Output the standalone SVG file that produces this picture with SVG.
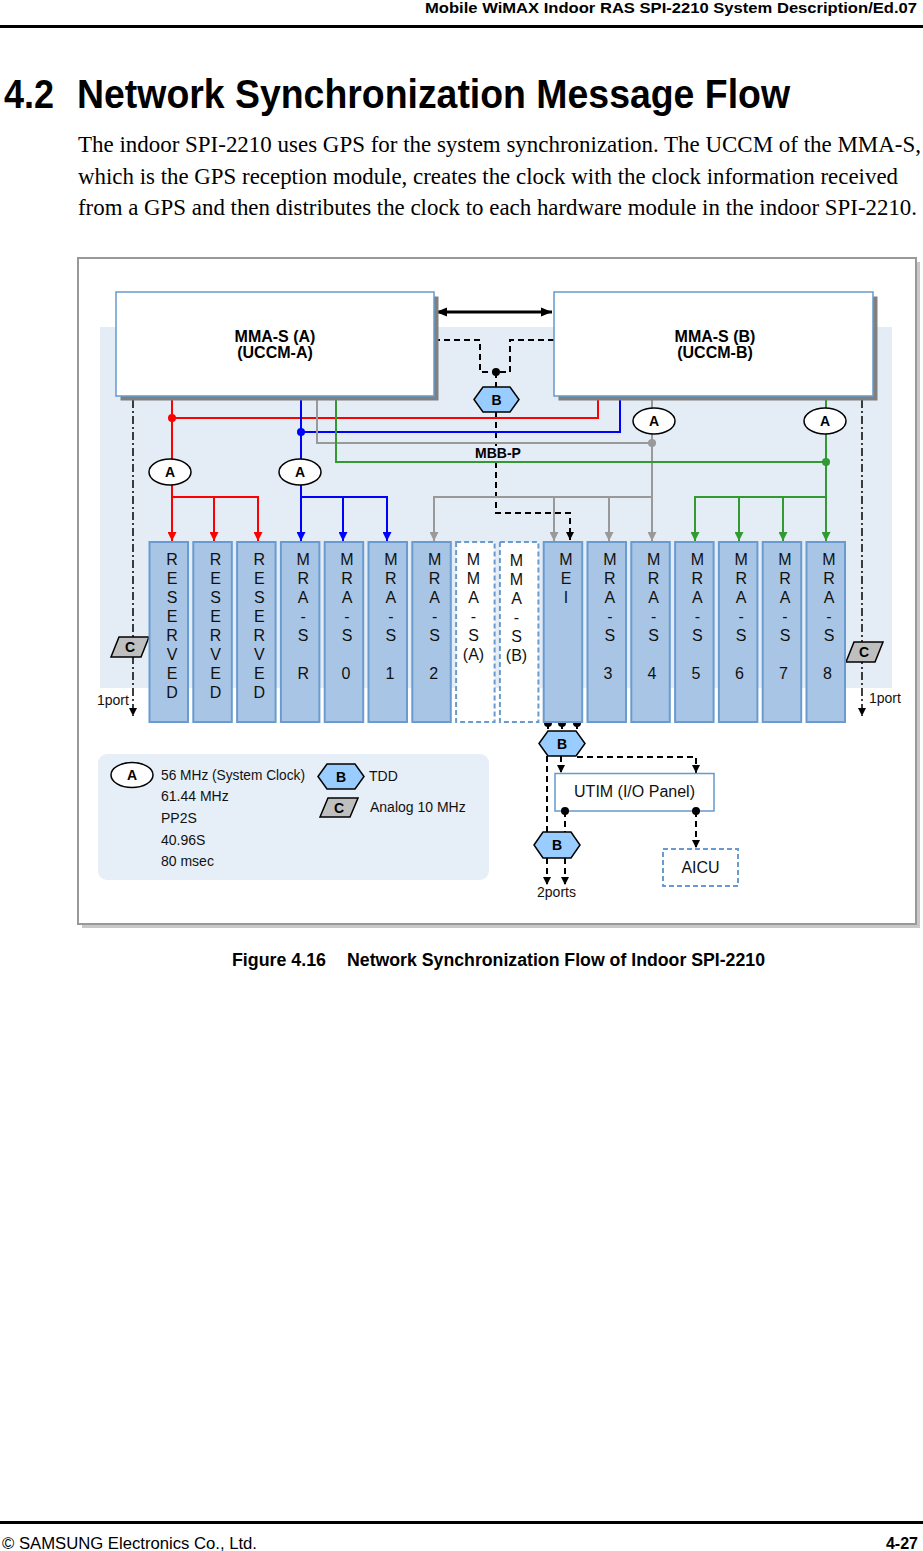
<svg xmlns="http://www.w3.org/2000/svg" width="923" height="1551" viewBox="0 0 923 1551">
<style>
.sans{font-family:"Liberation Sans",Arial,sans-serif}
.serif{font-family:"Liberation Serif","Times New Roman",serif}
.b{font-weight:bold}
.card{fill:#a8c5e5;stroke:#6a9bd0;stroke-width:2}
.dcard{fill:#fff;stroke:#6a9bd0;stroke-width:2;stroke-dasharray:5,3}
.ct{font-family:"Liberation Sans",Arial,sans-serif;font-size:16px;fill:#111;text-anchor:middle}
.box{fill:#fff;stroke:#6699cc;stroke-width:1.5}
.shadow{fill:#808080}
.hex{fill:#99ccff;stroke:#000;stroke-width:1.5}
.para{fill:#bfbfbf;stroke:#000;stroke-width:1.5}
.ell{fill:#fff;stroke:#000;stroke-width:1.5}
.lbl{font-family:"Liberation Sans",Arial,sans-serif;font-weight:bold;font-size:14px;text-anchor:middle}
.big{font-family:"Liberation Sans",Arial,sans-serif;font-weight:bold;font-size:16px;text-anchor:middle}
.txt{font-family:"Liberation Sans",Arial,sans-serif;font-size:14px;fill:#111}
.dash{fill:none;stroke:#000;stroke-width:2;stroke-dasharray:6,4}
.dd{fill:none;stroke:#000;stroke-width:1.5;stroke-dasharray:8,3,2,3}
.rl{fill:none;stroke:#ff0000;stroke-width:2}
.bl{fill:none;stroke:#0000ff;stroke-width:2}
.gl{fill:none;stroke:#999999;stroke-width:2}
.grl{fill:none;stroke:#339933;stroke-width:2}
</style>
<defs>
<marker id="mr" viewBox="0 0 10 10" refX="10" refY="5" markerWidth="9" markerHeight="9" markerUnits="userSpaceOnUse" orient="auto"><path d="M0,0L10,5L0,10z" fill="#ff0000"/></marker>
<marker id="mb" viewBox="0 0 10 10" refX="10" refY="5" markerWidth="9" markerHeight="9" markerUnits="userSpaceOnUse" orient="auto"><path d="M0,0L10,5L0,10z" fill="#0000ff"/></marker>
<marker id="mg" viewBox="0 0 10 10" refX="10" refY="5" markerWidth="9" markerHeight="9" markerUnits="userSpaceOnUse" orient="auto"><path d="M0,0L10,5L0,10z" fill="#999999"/></marker>
<marker id="mgr" viewBox="0 0 10 10" refX="10" refY="5" markerWidth="9" markerHeight="9" markerUnits="userSpaceOnUse" orient="auto"><path d="M0,0L10,5L0,10z" fill="#339933"/></marker>
<marker id="mk" viewBox="0 0 10 10" refX="10" refY="5" markerWidth="8" markerHeight="8" markerUnits="userSpaceOnUse" orient="auto"><path d="M0,0L10,5L0,10z" fill="#000"/></marker>
<marker id="mK" viewBox="0 0 10 10" refX="10" refY="5" markerWidth="11" markerHeight="11" markerUnits="userSpaceOnUse" orient="auto-start-reverse"><path d="M0,1L10,5L0,9z" fill="#000"/></marker>
</defs>

<!-- page header -->
<text x="425" y="13" class="sans b" font-size="15" textLength="492" lengthAdjust="spacingAndGlyphs">Mobile WiMAX Indoor RAS SPI-2210 System Description/Ed.07</text>
<rect x="0" y="25" width="923" height="3" fill="#000"/>
<text x="4" y="108" class="sans b" font-size="40" textLength="50" lengthAdjust="spacingAndGlyphs">4.2</text>
<text x="77" y="108" class="sans b" font-size="40" textLength="713" lengthAdjust="spacingAndGlyphs">Network Synchronization Message Flow</text>
<text x="78" y="152" class="serif" font-size="23" textLength="843" lengthAdjust="spacingAndGlyphs">The indoor SPI-2210 uses GPS for the system synchronization. The UCCM of the MMA-S,</text>
<text x="78" y="184" class="serif" font-size="23" textLength="820" lengthAdjust="spacingAndGlyphs">which is the GPS reception module, creates the clock with the clock information received</text>
<text x="78" y="215" class="serif" font-size="23" textLength="839" lengthAdjust="spacingAndGlyphs">from a GPS and then distributes the clock to each hardware module in the indoor SPI-2210.</text>

<!-- frame -->
<rect x="82" y="262" width="838" height="666" fill="#c8c8c8"/>
<rect x="78" y="258" width="838" height="666" fill="#fff" stroke="#999" stroke-width="2"/>
<rect x="100" y="327" width="792" height="361" fill="#e4ecf6"/>

<!-- connectors -->
<g id="connectors">
  <line x1="436" y1="312" x2="552" y2="312" stroke="#000" stroke-width="3" marker-start="url(#mK)" marker-end="url(#mK)"/>
  <path class="dash" d="M434,340H480V372H496M554,340H510V372H496V387"/>
  <path class="dash" d="M496,412V513H570V540" marker-end="url(#mk)"/>
  <!-- red -->
  <path class="rl" d="M172,396V541" marker-end="url(#mr)"/>
  <path class="rl" d="M598,396V418H172"/>
  <path class="rl" d="M172,497H258V541" marker-end="url(#mr)"/>
  <path class="rl" d="M214,497V541" marker-end="url(#mr)"/>
  <!-- blue -->
  <path class="bl" d="M301,396V541" marker-end="url(#mb)"/>
  <path class="bl" d="M620,396V432H301"/>
  <path class="bl" d="M301,497H387V541" marker-end="url(#mb)"/>
  <path class="bl" d="M343,497V541" marker-end="url(#mb)"/>
  <!-- gray -->
  <path class="gl" d="M317,396V443H652"/>
  <path class="gl" d="M652,396V541" marker-end="url(#mg)"/>
  <path class="gl" d="M652,497H434V541" marker-end="url(#mg)"/>
  <path class="gl" d="M554,497V541" marker-end="url(#mg)"/>
  <path class="gl" d="M609,497V541" marker-end="url(#mg)"/>
  <!-- green -->
  <path class="grl" d="M336,396V462H826"/>
  <path class="grl" d="M826,396V541" marker-end="url(#mgr)"/>
  <path class="grl" d="M826,497H695V541" marker-end="url(#mgr)"/>
  <path class="grl" d="M739,497V541" marker-end="url(#mgr)"/>
  <path class="grl" d="M783,497V541" marker-end="url(#mgr)"/>
  <!-- dots -->
  <circle cx="172" cy="418" r="4" fill="#ff0000"/>
  <circle cx="301" cy="432" r="4" fill="#0000ff"/>
  <circle cx="652" cy="443" r="4" fill="#999999"/>
  <circle cx="826" cy="462" r="4" fill="#339933"/>
  <circle cx="496" cy="372" r="4" fill="#000"/>
  <!-- 1port dash-dot -->
  <path class="dd" d="M133,400V716" marker-end="url(#mk)"/>
  <path class="dd" d="M862,400V716" marker-end="url(#mk)"/>
  <!-- MEI / UTIM -->
  <path class="dash" d="M548,723V731M562,723V731M577,723V731"/>
  <path class="dash" d="M561,756V773" marker-end="url(#mk)"/>
  <path class="dash" d="M577,757H696V773" marker-end="url(#mk)"/>
  <path class="dash" d="M547,756V832"/>
  <path class="dash" d="M565,811V832"/>
  <path class="dash" d="M696,811V848" marker-end="url(#mk)"/>
  <path class="dash" d="M547,858V885" marker-end="url(#mk)"/>
  <path class="dash" d="M565,858V885" marker-end="url(#mk)"/>
  <circle cx="548" cy="723" r="4" fill="#000"/>
  <circle cx="562" cy="723" r="4" fill="#000"/>
  <circle cx="577" cy="723" r="4" fill="#000"/>
</g>

<!-- MMA-S boxes -->
<g id="mmas-a">
  <rect class="shadow" x="120.5" y="296.5" width="318" height="104"/>
  <rect class="box" x="116" y="292" width="318" height="104"/>
  <text class="big" x="275" y="342">MMA-S (A)</text>
  <text class="big" x="275" y="358">(UCCM-A)</text>
</g>
<g id="mmas-b">
  <rect class="shadow" x="558.5" y="296.5" width="319" height="104"/>
  <rect class="box" x="554" y="292" width="319" height="104"/>
  <text class="big" x="715" y="342">MMA-S (B)</text>
  <text class="big" x="715" y="358">(UCCM-B)</text>
</g>

<!-- tags -->
<g id="tag-b-top">
  <polygon class="hex" points="474,399.5 483,387 510,387 519,399.5 510,412 483,412"/>
  <text class="lbl" x="496.5" y="404.5">B</text>
</g>
<g id="mbb-p">
  <rect x="474" y="446" width="49" height="14" fill="#e4ecf6"/>
  <text class="lbl" x="498" y="458">MBB-P</text>
</g>
<g id="tag-a1"><ellipse class="ell" cx="170" cy="472" rx="21" ry="13"/><text class="lbl" x="170" y="477">A</text></g>
<g id="tag-a2"><ellipse class="ell" cx="300" cy="472" rx="21" ry="13"/><text class="lbl" x="300" y="477">A</text></g>
<g id="tag-a3"><ellipse class="ell" cx="654" cy="421" rx="21" ry="13"/><text class="lbl" x="654" y="426">A</text></g>
<g id="tag-a4"><ellipse class="ell" cx="825" cy="421" rx="21" ry="13"/><text class="lbl" x="825" y="426">A</text></g>
<g id="tag-c-left"><polygon class="para" points="119,637 149,637 141,657 111,657"/><text class="lbl" x="130" y="652">C</text></g>
<g id="tag-c-right"><polygon class="para" points="854,642 883,642 875,662 846,662"/><text class="lbl" x="864" y="657">C</text></g>
<text class="txt" x="97" y="705">1port</text>
<text class="txt" x="869" y="703">1port</text>

<!-- cards -->
<g id="card-reserved-1"><rect class="card" x="149.5" y="542" width="38.5" height="180"/>
<text class="ct"><tspan x="172" y="565">R</tspan><tspan x="172" y="584">E</tspan><tspan x="172" y="603">S</tspan><tspan x="172" y="622">E</tspan><tspan x="172" y="641">R</tspan><tspan x="172" y="660">V</tspan><tspan x="172" y="679">E</tspan><tspan x="172" y="698">D</tspan></text></g>
<g id="card-reserved-2"><rect class="card" x="193.3" y="542" width="38.5" height="180"/>
<text class="ct"><tspan x="215.5" y="565">R</tspan><tspan x="215.5" y="584">E</tspan><tspan x="215.5" y="603">S</tspan><tspan x="215.5" y="622">E</tspan><tspan x="215.5" y="641">R</tspan><tspan x="215.5" y="660">V</tspan><tspan x="215.5" y="679">E</tspan><tspan x="215.5" y="698">D</tspan></text></g>
<g id="card-reserved-3"><rect class="card" x="237.1" y="542" width="38.5" height="180"/>
<text class="ct"><tspan x="259.3" y="565">R</tspan><tspan x="259.3" y="584">E</tspan><tspan x="259.3" y="603">S</tspan><tspan x="259.3" y="622">E</tspan><tspan x="259.3" y="641">R</tspan><tspan x="259.3" y="660">V</tspan><tspan x="259.3" y="679">E</tspan><tspan x="259.3" y="698">D</tspan></text></g>
<g id="card-mras-r"><rect class="card" x="280.9" y="542" width="38.5" height="180"/>
<text class="ct"><tspan x="303.2" y="565">M</tspan><tspan x="303.2" y="584">R</tspan><tspan x="303.2" y="603">A</tspan><tspan x="303.2" y="622">-</tspan><tspan x="303.2" y="641">S</tspan><tspan x="303.2" y="679">R</tspan></text></g>
<g id="card-mras-0"><rect class="card" x="324.7" y="542" width="38.5" height="180"/>
<text class="ct"><tspan x="347" y="565">M</tspan><tspan x="347" y="584">R</tspan><tspan x="347" y="603">A</tspan><tspan x="347" y="622">-</tspan><tspan x="347" y="641">S</tspan><tspan x="346" y="679">0</tspan></text></g>
<g id="card-mras-1"><rect class="card" x="368.5" y="542" width="38.5" height="180"/>
<text class="ct"><tspan x="390.8" y="565">M</tspan><tspan x="390.8" y="584">R</tspan><tspan x="390.8" y="603">A</tspan><tspan x="390.8" y="622">-</tspan><tspan x="390.8" y="641">S</tspan><tspan x="390" y="679">1</tspan></text></g>
<g id="card-mras-2"><rect class="card" x="412.3" y="542" width="38.5" height="180"/>
<text class="ct"><tspan x="434.6" y="565">M</tspan><tspan x="434.6" y="584">R</tspan><tspan x="434.6" y="603">A</tspan><tspan x="434.6" y="622">-</tspan><tspan x="434.6" y="641">S</tspan><tspan x="433.8" y="679">2</tspan></text></g>
<g id="card-mmas-a"><rect class="dcard" x="456.1" y="542" width="38.5" height="180"/>
<text class="ct"><tspan x="473.5" y="565">M</tspan><tspan x="473.5" y="584">M</tspan><tspan x="473.5" y="603">A</tspan><tspan x="473.5" y="622">-</tspan><tspan x="473.5" y="641">S</tspan><tspan x="473.5" y="660">(A)</tspan></text></g>
<g id="card-mmas-b"><rect class="dcard" x="499.9" y="542" width="38.5" height="180"/>
<text class="ct"><tspan x="516.5" y="566">M</tspan><tspan x="516.5" y="585">M</tspan><tspan x="516.5" y="604">A</tspan><tspan x="516.5" y="623">-</tspan><tspan x="516.5" y="642">S</tspan><tspan x="516.5" y="661">(B)</tspan></text></g>
<g id="card-mei"><rect class="card" x="543.7" y="542" width="38.5" height="180"/>
<text class="ct"><tspan x="566" y="565">M</tspan><tspan x="566" y="584">E</tspan><tspan x="566" y="603">I</tspan></text></g>
<g id="card-mras-3"><rect class="card" x="587.5" y="542" width="38.5" height="180"/>
<text class="ct"><tspan x="609.8" y="565">M</tspan><tspan x="609.8" y="584">R</tspan><tspan x="609.8" y="603">A</tspan><tspan x="609.8" y="622">-</tspan><tspan x="609.8" y="641">S</tspan><tspan x="608" y="679">3</tspan></text></g>
<g id="card-mras-4"><rect class="card" x="631.3" y="542" width="38.5" height="180"/>
<text class="ct"><tspan x="653.6" y="565">M</tspan><tspan x="653.6" y="584">R</tspan><tspan x="653.6" y="603">A</tspan><tspan x="653.6" y="622">-</tspan><tspan x="653.6" y="641">S</tspan><tspan x="652" y="679">4</tspan></text></g>
<g id="card-mras-5"><rect class="card" x="675.1" y="542" width="38.5" height="180"/>
<text class="ct"><tspan x="697.4" y="565">M</tspan><tspan x="697.4" y="584">R</tspan><tspan x="697.4" y="603">A</tspan><tspan x="697.4" y="622">-</tspan><tspan x="697.4" y="641">S</tspan><tspan x="696" y="679">5</tspan></text></g>
<g id="card-mras-6"><rect class="card" x="718.9" y="542" width="38.5" height="180"/>
<text class="ct"><tspan x="741.2" y="565">M</tspan><tspan x="741.2" y="584">R</tspan><tspan x="741.2" y="603">A</tspan><tspan x="741.2" y="622">-</tspan><tspan x="741.2" y="641">S</tspan><tspan x="739.5" y="679">6</tspan></text></g>
<g id="card-mras-7"><rect class="card" x="762.7" y="542" width="38.5" height="180"/>
<text class="ct"><tspan x="785" y="565">M</tspan><tspan x="785" y="584">R</tspan><tspan x="785" y="603">A</tspan><tspan x="785" y="622">-</tspan><tspan x="785" y="641">S</tspan><tspan x="783.5" y="679">7</tspan></text></g>
<g id="card-mras-8"><rect class="card" x="806.5" y="542" width="38.5" height="180"/>
<text class="ct"><tspan x="829" y="565">M</tspan><tspan x="829" y="584">R</tspan><tspan x="829" y="603">A</tspan><tspan x="829" y="622">-</tspan><tspan x="829" y="641">S</tspan><tspan x="827.5" y="679">8</tspan></text></g>

<!-- lower tags and boxes -->
<g id="tag-b-mei"><polygon class="hex" points="539,743.5 548,731 576,731 585,743.5 576,756 548,756"/><text class="lbl" x="562" y="748.5">B</text></g>
<g id="utim"><rect class="box" x="555" y="773.5" width="159" height="37.5"/><text class="sans" font-size="16" x="634.5" y="797" text-anchor="middle" fill="#111">UTIM (I/O Panel)</text></g>
<circle cx="565" cy="811" r="4" fill="#000"/>
<circle cx="696" cy="811" r="4" fill="#000"/>
<g id="aicu"><rect x="663" y="849" width="75" height="37" fill="#fff" stroke="#6a9bd0" stroke-width="2" stroke-dasharray="5,3"/><text class="sans" font-size="16" x="700.5" y="873" text-anchor="middle" fill="#111">AICU</text></g>
<g id="tag-b-ports"><polygon class="hex" points="534,845 543,832 571,832 580,845 571,858 543,858"/><text class="lbl" x="557" y="850">B</text></g>
<text class="txt" x="556.5" y="897" text-anchor="middle">2ports</text>

<!-- legend -->
<g id="legend">
  <rect x="98" y="754" width="391" height="126" rx="9" fill="#e6eef7"/>
  <ellipse class="ell" cx="132" cy="775" rx="21" ry="12.5"/><text class="lbl" x="132" y="780">A</text>
  <text class="txt" x="161" y="780" textLength="144" lengthAdjust="spacingAndGlyphs">56 MHz (System Clock)</text>
  <text class="txt" x="161" y="801">61.44 MHz</text>
  <text class="txt" x="161" y="823">PP2S</text>
  <text class="txt" x="161" y="845">40.96S</text>
  <text class="txt" x="161" y="866">80 msec</text>
  <polygon class="hex" points="318,776.5 327,764 355,764 364,776.5 355,789 327,789"/><text class="lbl" x="341" y="781.5">B</text>
  <text class="txt" x="369" y="781">TDD</text>
  <polygon class="para" points="328,798 358,798 350,817 320,817"/><text class="lbl" x="339" y="813">C</text>
  <text class="txt" x="370" y="812">Analog 10 MHz</text>
</g>

<!-- caption and footer -->
<text x="232" y="966" class="sans b" font-size="17.5" textLength="94" lengthAdjust="spacingAndGlyphs">Figure 4.16</text>
<text x="347" y="966" class="sans b" font-size="17.5" textLength="418" lengthAdjust="spacingAndGlyphs">Network Synchronization Flow of Indoor SPI-2210</text>
<rect x="0" y="1521" width="923" height="3" fill="#000"/>
<text x="2" y="1549" class="sans" font-size="16" textLength="255" lengthAdjust="spacingAndGlyphs">© SAMSUNG Electronics Co., Ltd.</text>
<text x="918" y="1549" class="sans b" font-size="16" text-anchor="end">4-27</text>
</svg>
